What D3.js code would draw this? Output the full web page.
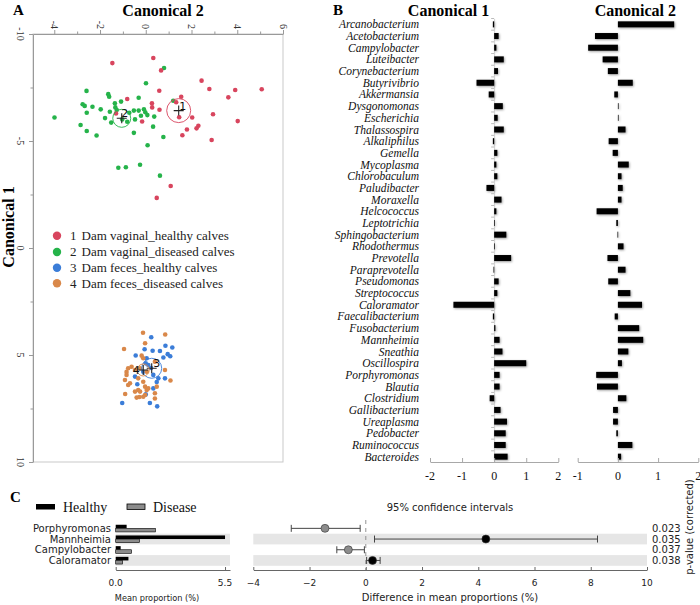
<!DOCTYPE html>
<html><head><meta charset="utf-8">
<script src="https://cdn.jsdelivr.net/npm/d3@7"></script>
<style>body{margin:0;background:#fff} svg{display:block}</style>
</head><body><svg id="c" width="700" height="605"></svg>
<script>
// ---------- Panel A data: [Canonical 2, Canonical 1] ----------
const can2Ticks = [-4, -2, 0, 2, 4, 6];
const can2Minor = [-3, -1, 1, 3, 5];
const can1Ticks = [-10, -5, 0, 5, 10];
const can1Minor = [-7.5, -2.5, 2.5, 7.5];
const groupNames = ["Dam vaginal_healthy calves", "Dam vaginal_diseased calves", "Dam feces_healthy calves", "Dam feces_diseased calves"];
const groupColors = ["#d8455e", "#25b34a", "#3b7dd8", "#d9884a"];
const group1 = [[-1.46,-8.64],[0.33,-8.88],[0.67,-8.30],[2.44,-7.82],[2.78,-7.43],[3.91,-7.38],[5.07,-7.42],[0.59,-7.35],[3.61,-7.04],[1.55,-7.07],[1.33,-6.81],[-0.81,-6.96],[0.27,-6.76],[0.28,-6.57],[0.60,-6.46],[1.46,-6.11],[2.03,-6.10],[2.94,-6.25],[4.02,-5.93],[-0.16,-5.91],[-1.30,-6.29],[2.30,-5.71],[2.22,-5.59],[1.80,-5.54],[1.60,-5.27],[2.88,-5.05],[1.09,-2.90],[0.48,-2.34]];
const group2 = [[0.80,-8.41],[0.01,-7.70],[-2.59,-7.34],[-1.64,-7.19],[-1.60,-7.07],[-0.31,-7.02],[-2.76,-6.72],[-2.67,-6.64],[-2.33,-6.60],[-1.97,-6.48],[-1.35,-6.76],[-1.08,-6.84],[-1.33,-6.57],[-1.27,-6.45],[-1.57,-6.37],[-2.58,-6.32],[-0.72,-6.32],[-0.52,-6.42],[-0.31,-6.42],[-0.08,-6.48],[-0.02,-6.34],[0.07,-6.21],[-0.21,-6.18],[-0.47,-6.01],[-3.99,-6.10],[-1.78,-6.07],[-1.51,-5.86],[-1.03,-6.01],[0.37,-6.14],[-2.85,-5.75],[-2.58,-5.47],[-2.15,-5.26],[-0.52,-5.38],[0.32,-5.67],[0.77,-5.19],[0.08,-4.80],[1.20,-6.88],[-1.20,-3.75],[-0.87,-3.77],[-0.25,-3.89],[0.62,-3.38],[-0.81,-5.90]];
const group3 = [[0.24,4.17],[-0.05,4.73],[-0.44,5.02],[0.30,4.80],[0.62,4.81],[0.86,4.57],[1.16,4.65],[0.96,4.96],[1.07,5.06],[0.77,5.12],[0.04,5.15],[0.00,5.39],[0.11,5.47],[0.33,5.93],[0.55,6.09],[0.84,6.09],[0.48,6.26],[0.33,6.56],[-1.03,7.24],[0.18,7.24],[0.50,7.40],[-0.37,6.37],[-0.47,6.01],[-0.11,5.78],[0.00,6.84],[0.23,5.61]];
const group4 = [[-0.12,3.96],[0.85,4.04],[-0.95,4.72],[-0.03,4.45],[-0.18,5.03],[-0.11,5.15],[-0.77,5.62],[-0.62,5.55],[-0.47,5.70],[-0.84,5.93],[-0.91,6.17],[-0.69,6.32],[-0.33,6.09],[-0.11,6.25],[-0.03,6.48],[-0.33,6.64],[0.04,6.64],[-0.47,6.71],[-0.90,6.82],[-0.03,6.87],[-0.11,6.95],[0.40,6.79],[0.84,5.70],[1.08,6.19],[0.40,5.31],[-0.25,5.62],[0.04,5.78],[-0.40,6.99],[-0.28,6.96],[0.40,7.03],[0.11,6.56],[0.48,6.48],[-0.84,5.79],[-0.77,6.40],[-0.25,6.71]];
const groupMeans = [[1.44,-6.42],[-1.05,-6.06],[0.26,5.62],[-0.11,5.70]];

// ---------- Panel B data ----------
const species = ["Arcanobacterium","Acetobacterium","Campylobacter","Luteibacter","Corynebacterium","Butyrivibrio","Akkermansia","Dysgonomonas","Escherichia","Thalassospira","Alkaliphilus","Gemella","Mycoplasma","Chlorobaculum","Paludibacter","Moraxella","Helcococcus","Leptotrichia","Sphingobacterium","Rhodothermus","Prevotella","Paraprevotella","Pseudomonas","Streptococcus","Caloramator","Faecalibacterium","Fusobacterium","Mannheimia","Sneathia","Oscillospira","Porphyromonas","Blautia","Clostridium","Gallibacterium","Ureaplasma","Pedobacter","Ruminococcus","Bacteroides"];
const canonical1 = [-0.04,0.14,0.07,0.30,0.12,-0.55,-0.17,0.27,0.11,0.30,-0.04,0.10,0.07,0.10,-0.24,0.23,0.07,0.01,0.38,0.01,0.53,-0.02,0.14,0.10,-1.27,-0.04,0.04,0.17,0.26,1.00,0.17,0.17,-0.14,0.20,0.40,0.36,0.36,0.42];
const canonical2 = [1.40,-0.57,-0.74,-0.38,-0.25,0.37,-0.09,0.01,0.01,0.19,-0.23,-0.13,0.27,0.09,0.12,0.09,-0.53,-0.04,-0.01,0.14,-0.26,0.19,-0.24,0.31,0.60,-0.08,0.53,0.63,0.26,0.10,-0.54,-0.52,0.21,-0.12,-0.12,-0.04,0.36,0.08];
const can1BTicks = [-2, -1, 0, 1, 2];
const can2BTicks = [-1, 0, 1, 2];

// ---------- Panel C data ----------
const taxaC = ["Porphyromonas","Mannheimia","Campylobacter","Caloramator"];
const healthyMean = [0.55, 5.5, 0.25, 0.64];
const diseaseMean = [2.0, 1.2, 0.8, 0.35];
const diffMean = [-1.45, 4.27, -0.62, 0.24];
const ciLow = [-2.65, 0.31, -1.03, 0.03];
const ciHigh = [-0.20, 8.24, -0.05, 0.51];
const pValues = ["0.023","0.035","0.037","0.038"];
const propTicks = [0.0, 5.5];
const diffTicks = [-4, -2, 0, 2, 4, 6, 8, 10];

const svg = d3.select('#c');
const serif = '"Liberation Serif","Times New Roman",serif';
const sans = '"DejaVu Sans",sans-serif';

const defs = svg.append('defs');
defs.append('filter').attr('id','sh').attr('x','-20%').attr('y','-50%').attr('width','140%').attr('height','200%')
  .append('feDropShadow').attr('dx',0.8).attr('dy',0.9).attr('stdDeviation',0.8)
  .attr('flood-color','#000').attr('flood-opacity',0.4);

// ================= Panel A =================
const xA = d3.scaleLinear().domain([-4.93, 6]).range([33, 283]);
const yA = d3.scaleLinear().domain([-10, 10]).range([34, 462]);
const gA = svg.append('g');

gA.append('rect').attr('x', xA.range()[0]).attr('y', yA.range()[0])
  .attr('width', xA.range()[1]-xA.range()[0]).attr('height', yA.range()[1]-yA.range()[0])
  .attr('fill','none').attr('stroke','#c9c9c9').attr('stroke-width',1);

function styleAxis(g, col){ g.select('.domain').attr('stroke', col); g.selectAll('.tick line').attr('stroke', col); g.selectAll('text').remove(); }
gA.append('g').attr('transform',`translate(0,${yA.range()[0]})`)
  .call(d3.axisTop(xA).tickValues(can2Ticks).tickSize(4).tickSizeOuter(0)).call(g=>styleAxis(g,'#999'));
gA.append('g').attr('transform',`translate(0,${yA.range()[0]})`)
  .call(d3.axisTop(xA).tickValues(can2Minor).tickSize(2.5).tickSizeOuter(0)).call(g=>{styleAxis(g,'#999'); g.select('.domain').remove();});
gA.append('g').attr('transform',`translate(${xA.range()[0]},0)`)
  .call(d3.axisLeft(yA).tickValues(can1Ticks).tickSize(4).tickSizeOuter(0)).call(g=>styleAxis(g,'#999'));
gA.append('g').attr('transform',`translate(${xA.range()[0]},0)`)
  .call(d3.axisLeft(yA).tickValues(can1Minor).tickSize(2.5).tickSizeOuter(0)).call(g=>{styleAxis(g,'#999'); g.select('.domain').remove();});

gA.selectAll('.tl2').data(can2Ticks).join('text')
  .attr('x', d=>xA(d)).attr('y', 29)
  .attr('transform', d=>`rotate(90,${xA(d)},29)`)
  .attr('text-anchor','end').attr('dominant-baseline','central')
  .attr('font-family', serif).attr('font-size', 10).attr('fill','#333').text(d=>String(d));
gA.selectAll('.tl1').data(can1Ticks).join('text')
  .attr('x', 20).attr('y', d=>yA(d))
  .attr('transform', d=>`rotate(90,20,${yA(d)})`)
  .attr('text-anchor','middle').attr('dominant-baseline','central')
  .attr('font-family', serif).attr('font-size', 10).attr('fill','#333').text(d=>String(d));

gA.append('text').attr('x',163).attr('y',16).attr('text-anchor','middle')
  .attr('font-family',serif).attr('font-weight','bold').attr('font-size',16).text('Canonical 2');
gA.append('text').attr('x',13).attr('y',15)
  .attr('font-family',serif).attr('font-weight','bold').attr('font-size',15).text('A');
gA.append('text').attr('transform','translate(14,227) rotate(-90)').attr('text-anchor','middle')
  .attr('font-family',serif).attr('font-weight','bold').attr('font-size',16).text('Canonical 1');

const groups = [group1, group2, group3, group4];
[1,0,2,3].forEach(gi=>{
  gA.append('g').selectAll('circle').data(groups[gi]).join('circle')
    .attr('cx', d=>xA(d[0])).attr('cy', d=>yA(d[1])).attr('r', 2.3)
    .attr('fill', groupColors[gi]);
});
// group means
const meanR = [12, 9, 10, 6];
const labelOff = [[4,-4],[3,-5],[5,-5],[-7,1]];
groupMeans.forEach((m,i)=>{
  const cx = xA(m[0]), cy = yA(m[1]);
  gA.append('circle').attr('cx',cx).attr('cy',cy).attr('r',meanR[i])
    .attr('fill','none').attr('stroke',groupColors[i]).attr('stroke-width',0.9);
  gA.append('path').attr('d',`M${cx-5},${cy}H${cx+5}M${cx},${cy-5}V${cy+5}`)
    .attr('stroke','#222').attr('stroke-width',1.1);
  gA.append('text').attr('x',cx+labelOff[i][0]).attr('y',cy+labelOff[i][1])
    .attr('text-anchor','middle').attr('dominant-baseline','central')
    .attr('font-family',sans).attr('font-size',11).attr('fill','#111').text(String(i+1));
});
// legend
const legY = [235.7, 252, 267.7, 283.3];
groupNames.forEach((n,i)=>{
  gA.append('circle').attr('cx',57).attr('cy',legY[i]).attr('r',4.2).attr('fill',groupColors[i]);
  gA.append('text').attr('x',70).attr('y',legY[i]+4.3).attr('font-family',serif).attr('font-size',13).attr('fill','#222').text(String(i+1));
  gA.append('text').attr('x',81.5).attr('y',legY[i]+4.3).attr('font-family',serif).attr('font-size',13).attr('fill','#222').text(n);
});

// ================= Panel B =================
const gB = svg.append('g');
const yB = d3.scaleBand().domain(species).range([18.5, 462.5]);
const xB1 = d3.scaleLinear().domain([-2, 2]).range([430, 558.3]);
const xB2 = d3.scaleLinear().domain([-1, 2]).range([577.7, 698.3]);
const barH = 6;

gB.append('text').attr('x',333).attr('y',15)
  .attr('font-family',serif).attr('font-weight','bold').attr('font-size',15).text('B');
gB.append('text').attr('x',448.5).attr('y',16).attr('text-anchor','middle')
  .attr('font-family',serif).attr('font-weight','bold').attr('font-size',16).text('Canonical 1');
gB.append('text').attr('x',635.3).attr('y',16).attr('text-anchor','middle')
  .attr('font-family',serif).attr('font-weight','bold').attr('font-size',16).text('Canonical 2');

gB.selectAll('.sp').data(species).join('text')
  .attr('x',419).attr('y',d=>yB(d)+yB.bandwidth()/2)
  .attr('text-anchor','end').attr('dominant-baseline','central')
  .attr('font-family',serif).attr('font-style','italic').attr('font-size',11.5).attr('fill','#111').text(d=>d);

// zero axis for canonical 1
gB.append('g').attr('transform',`translate(${xB1(0)},0)`)
  .call(d3.axisLeft(yB).tickSize(3).tickSizeOuter(0).tickFormat(''))
  .call(g=>{g.select('.domain').attr('stroke','#d0d0d0'); g.selectAll('.tick').attr('transform',d=>`translate(0,${yB(d)})`); g.selectAll('.tick line').attr('stroke','#bbb');});

function bars(vals, xs){
  gB.append('g').attr('filter','url(#sh)').selectAll('rect').data(species).join('rect')
    .attr('x',(d,i)=>Math.min(xs(0), xs(vals[i])))
    .attr('width',(d,i)=>Math.max(0.7, Math.abs(xs(vals[i])-xs(0))))
    .attr('y',d=>yB(d)+yB.bandwidth()/2-barH/2).attr('height',barH).attr('fill','#000');
}
bars(canonical1, xB1);
bars(canonical2, xB2);

function bottomAxis(xs, ticks){
  const g = gB.append('g').attr('transform','translate(0,462)')
    .call(d3.axisBottom(xs).tickValues(ticks).tickSize(-4).tickSizeOuter(0));
  g.select('.domain').attr('stroke','#a8a8a8');
  g.selectAll('.tick line').attr('stroke','#a8a8a8');
  g.selectAll('text').remove();
  gB.selectAll(null).data(ticks).join('text')
    .attr('x',d=>xs(d)).attr('y',480).attr('text-anchor','middle')
    .attr('font-family',serif).attr('font-size',12).attr('fill','#111').text(d=>String(d));
}
bottomAxis(xB1, can1BTicks);
bottomAxis(xB2, can2BTicks);

// ================= Panel C =================
const gC = svg.append('g');
const yC = d3.scaleBand().domain(taxaC).range([523, 565.8]);
const xProp = d3.scaleLinear().domain([0, 5.75]).range([115.7, 230]);
const xDiff = d3.scaleLinear().domain([-4, 10]).range([253.3, 647]);
const cy = d => yC(d) + yC.bandwidth()/2;

gC.append('text').attr('x',10).attr('y',502)
  .attr('font-family',serif).attr('font-weight','bold').attr('font-size',15).text('C');
// legend
gC.append('rect').attr('x',36).attr('y',504).attr('width',19).attr('height',5.5).attr('fill','#000');
gC.append('text').attr('x',63).attr('y',511.5).attr('font-family',serif).attr('font-size',14).attr('fill','#111').text('Healthy');
gC.append('rect').attr('x',127).attr('y',504).attr('width',18).attr('height',5.5).attr('fill','#8c8c8c').attr('stroke','#000').attr('stroke-width',0.8);
gC.append('text').attr('x',153).attr('y',511.5).attr('font-family',serif).attr('font-size',14).attr('fill','#111').text('Disease');

// bands
taxaC.forEach((t,i)=>{
  if(i%2===1){
    gC.append('rect').attr('x',xProp.range()[0]).attr('y',yC(t)).attr('width',xProp.range()[1]-xProp.range()[0]).attr('height',yC.bandwidth()).attr('fill','#e6e6e6');
    gC.append('rect').attr('x',xDiff.range()[0]).attr('y',yC(t)).attr('width',xDiff.range()[1]-xDiff.range()[0]).attr('height',yC.bandwidth()).attr('fill','#e6e6e6');
  }
});
gC.selectAll('.tx').data(taxaC).join('text')
  .attr('x',111).attr('y',d=>cy(d)).attr('text-anchor','end').attr('dominant-baseline','central')
  .attr('font-family',sans).attr('font-size',10).attr('fill','#222').text(d=>d);
// bars
gC.selectAll('.hb').data(taxaC).join('rect')
  .attr('x',xProp(0)).attr('y',d=>cy(d)-3.6).attr('height',3.6)
  .attr('width',(d,i)=>xProp(healthyMean[i])-xProp(0)).attr('fill','#000');
gC.selectAll('.db').data(taxaC).join('rect')
  .attr('x',xProp(0)).attr('y',d=>cy(d)).attr('height',3.6)
  .attr('width',(d,i)=>xProp(diseaseMean[i])-xProp(0)).attr('fill','#8c8c8c').attr('stroke','#000').attr('stroke-width',0.6);
// prop axis
{
  const g = gC.append('g').attr('transform','translate(0,570)')
    .call(d3.axisBottom(xProp).tickValues(propTicks).tickSize(-3).tickSizeOuter(0));
  g.select('.domain').attr('stroke','#666'); g.selectAll('.tick line').attr('stroke','#666'); g.selectAll('text').remove();
  gC.selectAll(null).data(propTicks).join('text').attr('x',d=>xProp(d)).attr('y',586).attr('text-anchor','middle')
    .attr('font-family',sans).attr('font-size',9).attr('fill','#222').text(d=>d.toFixed(1));
  gC.append('text').attr('x',157).attr('y',601).attr('text-anchor','middle')
    .attr('font-family',sans).attr('font-size',8.2).attr('fill','#222').text('Mean proportion (%)');
}
// diff axis
{
  const g = gC.append('g').attr('transform','translate(0,570)')
    .call(d3.axisBottom(xDiff).tickValues(diffTicks).tickSize(-3).tickSizeOuter(0));
  g.select('.domain').attr('stroke','#666'); g.selectAll('.tick line').attr('stroke','#666'); g.selectAll('text').remove();
  gC.selectAll(null).data(diffTicks).join('text').attr('x',d=>xDiff(d)).attr('y',586).attr('text-anchor','middle')
    .attr('font-family',sans).attr('font-size',9).attr('fill','#222').text(d=>d<0?'\u2212'+Math.abs(d):String(d));
  gC.append('text').attr('x',450).attr('y',601).attr('text-anchor','middle')
    .attr('font-family',sans).attr('font-size',10).attr('fill','#222').text('Difference in mean proportions (%)');
}
gC.append('text').attr('x',450).attr('y',511).attr('text-anchor','middle')
  .attr('font-family',sans).attr('font-size',10).attr('fill','#222').text('95% confidence intervals');
gC.append('line').attr('x1',xDiff(0)).attr('x2',xDiff(0)).attr('y1',520).attr('y2',570)
  .attr('stroke','#888').attr('stroke-width',0.9).attr('stroke-dasharray','4,4');
// CIs
taxaC.forEach((t,i)=>{
  const y = cy(t), x1 = xDiff(ciLow[i]), x2 = xDiff(ciHigh[i]);
  gC.append('path').attr('d',`M${x1},${y}H${x2}M${x1},${y-3.5}V${y+3.5}M${x2},${y-3.5}V${y+3.5}`)
    .attr('stroke','#444').attr('stroke-width',1).attr('fill','none');
  gC.append('circle').attr('cx',xDiff(diffMean[i])).attr('cy',y).attr('r',4)
    .attr('fill', diffMean[i] > 0 ? '#000' : '#8c8c8c').attr('stroke','#333').attr('stroke-width',0.6);
});
gC.selectAll('.pv').data(taxaC).join('text')
  .attr('x',652).attr('y',d=>cy(d)).attr('dominant-baseline','central')
  .attr('font-family',sans).attr('font-size',10).attr('fill','#222').text((d,i)=>pValues[i]);
gC.append('text').attr('transform','translate(693,527) rotate(-90)').attr('text-anchor','middle')
  .attr('font-family',sans).attr('font-size',10).attr('fill','#222').text('p-value (corrected)');
</script></body></html>
